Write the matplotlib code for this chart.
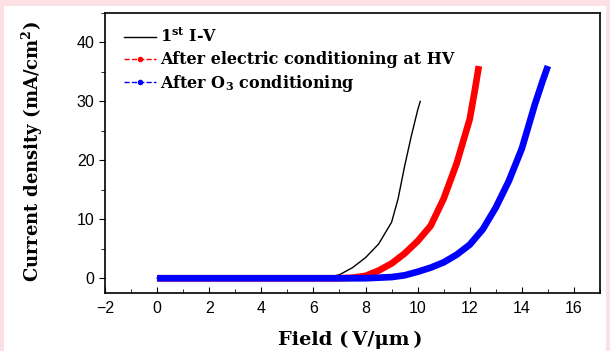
import matplotlib
matplotlib.use('Agg')
import matplotlib.pyplot as plt
from matplotlib.lines import Line2D
from matplotlib.patches import Rectangle
from matplotlib.ticker import MultipleLocator

# data
field_first = [0, 1, 2, 3, 4, 5, 6, 6.5, 7, 7.5, 8, 8.5, 9, 9.25, 9.5, 9.75, 10, 10.1]
j_first = [0, 0, 0, 0, 0, 0, 0, 0.1, 0.6, 1.8, 3.5, 5.8, 9.5, 13.5, 19, 24, 28.5, 30]

field_hv = [0, 1, 2, 3, 4, 5, 6, 7, 7.5, 8, 8.5, 9, 9.5, 10, 10.5, 11, 11.5, 12, 12.2, 12.35]
j_hv = [0, 0, 0, 0, 0, 0, 0, 0, 0.1, 0.4, 1.3, 2.5, 4.2, 6.3, 8.9, 13.5, 19.5, 27, 32, 36]

field_o3 = [0, 1, 2, 3, 4, 5, 6, 7, 8, 9, 9.5, 10, 10.5, 11, 11.5, 12, 12.5, 13, 13.5, 14, 14.5, 14.8, 15]
j_o3 = [0, 0, 0, 0, 0, 0, 0, 0, 0, 0.2, 0.5, 1.1, 1.8, 2.7, 4.0, 5.7, 8.3, 12, 16.5, 22, 29.5, 33.5, 36]

labels = ['1$^{\\mathbf{st}}$ I-V', 'After electric conditioning at HV', 'After O$_\\mathbf{3}$ conditioning']

plt.rcParams['mathtext.fontset'] = 'dejavuserif'

fig = plt.figure(figsize=(6.1, 3.51), dpi=100, facecolor='#fde0e3')
# white panel inside the pink frame
fig.patches.append(Rectangle((4 / 610, 0), 602 / 610, 345 / 351, transform=fig.transFigure,
                             facecolor='white', edgecolor='none', zorder=-10))

ax = fig.add_axes([105 / 610, 1 - 293 / 351, 495 / 610, 280 / 351])
ax.set_zorder(1)

ax.plot(field_first, j_first, color='black', lw=1)
ax.plot(field_hv, j_hv, color='red', lw=4.8, solid_capstyle='butt')
ax.plot(field_o3, j_o3, color='blue', lw=4.8, solid_capstyle='butt')

ax.set_xlim(-2, 17)
ax.set_ylim(-2.5, 45)
ax.xaxis.set_major_locator(MultipleLocator(2))
ax.xaxis.set_minor_locator(MultipleLocator(1))
ax.yaxis.set_major_locator(MultipleLocator(10))
ax.yaxis.set_minor_locator(MultipleLocator(5))
ax.tick_params(axis='x', which='both', direction='in', labelsize=11.5, pad=6)
ax.tick_params(axis='x', which='major', length=4)
ax.tick_params(axis='x', which='minor', length=3)
ax.tick_params(axis='y', which='both', direction='out', labelsize=11.5)
ax.tick_params(axis='y', which='major', length=4)
ax.tick_params(axis='y', which='minor', length=3)
for lab in ax.get_xticklabels() + ax.get_yticklabels():
    lab.set_fontfamily('Liberation Sans')
for s in ax.spines.values():
    s.set_linewidth(1.2)

serif = 'DejaVu Serif'
ax.set_xlabel('Field (\u2009V/\u03bcm\u2009)', fontfamily=serif, fontweight='bold', fontsize=14)
ax.set_ylabel('Current density (mA/cm$^{\\mathbf{2}}$)', fontfamily=serif, fontweight='bold', fontsize=13)
ax.xaxis.set_label_coords(0.495, -0.135)
ax.yaxis.set_label_coords(-0.122, 0.504)

handles = [
    Line2D([], [], color='black', lw=1),
    Line2D([], [], color='red', lw=1, ls='--', marker='o', markersize=3),
    Line2D([], [], color='blue', lw=1, ls='--', marker='o', markersize=3),
]
ax.legend(handles, labels, loc='upper left', frameon=False, handlelength=2.0,
          handletextpad=0.25, labelspacing=0.3, bbox_to_anchor=(0.025, 0.97),
          borderaxespad=0.0, prop={'family': serif, 'weight': 'bold', 'size': 11.5})

fig.savefig('out.png', dpi=100, facecolor=fig.get_facecolor())
